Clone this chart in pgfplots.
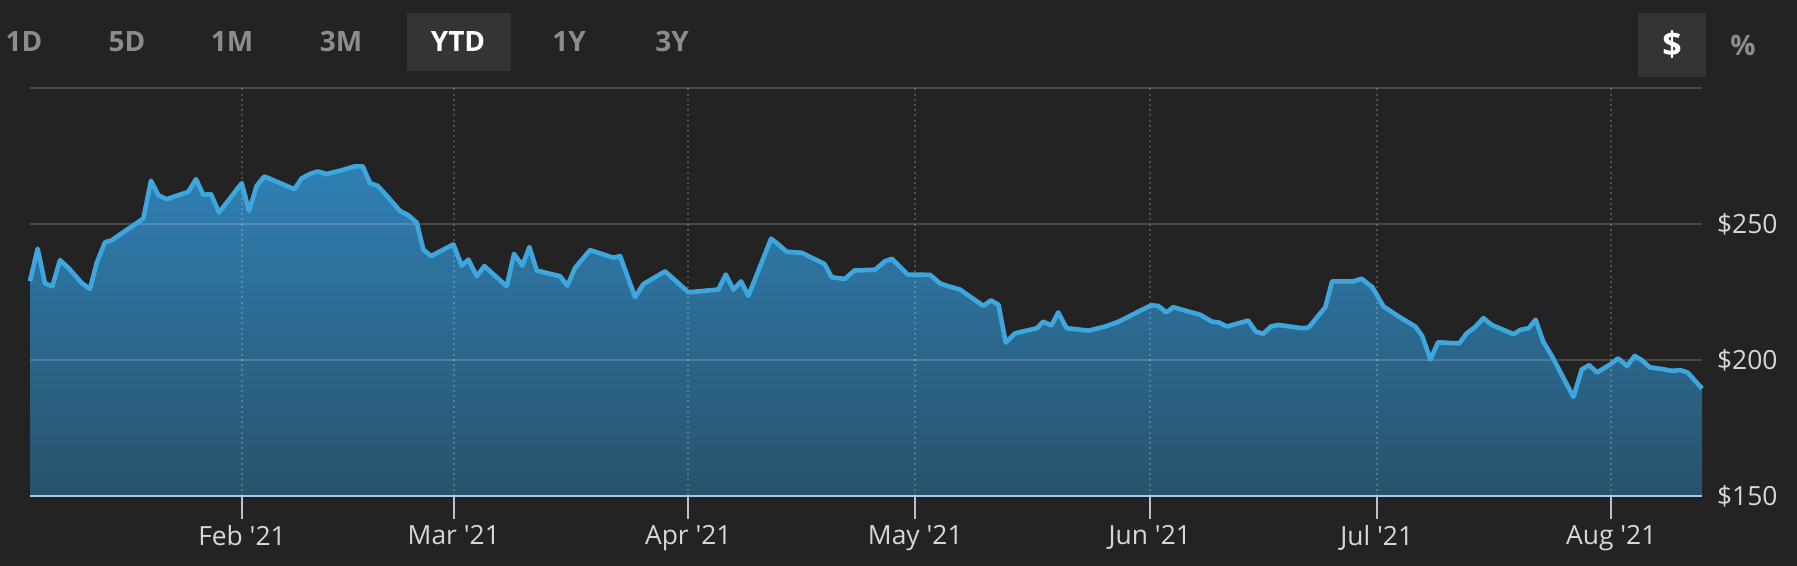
\documentclass[border=0pt]{standalone}
\usepackage{pgfplots}
\usepackage{pgfplotstable}
\pgfplotsset{compat=1.18}
\usepackage{fontspec}
\setmainfont{Open Sans}
\definecolor{bg}{RGB}{35,35,35}
\definecolor{btn}{RGB}{52,52,52}
\definecolor{btntxt}{RGB}{140,140,140}
\definecolor{lbl}{RGB}{215,215,215}
\definecolor{linec}{RGB}{62,166,222}
\definecolor{filltop}{RGB}{47,128,180}
\definecolor{fillbot}{RGB}{40,82,108}
\definecolor{axisc}{RGB}{168,200,226}
\definecolor{tickc}{RGB}{176,196,212}

\pgfplotstableread{
day val
2.975 229
3.99 240.9
4.96 228.1
5.93 227.1
6.94 236.7
8.04 233.9
9.81 228.3
10.91 226.1
11.79 235.7
12.89 243.3
13.77 244.0
15.53 247.4
16.86 249.9
17.96 252.0
18.97 265.9
19.94 260.6
21.04 259.1
22.58 260.6
23.90 261.8
24.92 266.5
25.89 260.7
26.90 261.0
27.96 254.2
30.96 265.0
31.93 254.8
32.94 264.0
33.95 267.5
35.80 265.3
37.92 262.8
38.89 266.8
39.99 268.4
41.01 269.3
42.20 268.4
43.96 269.6
45.94 271.2
46.96 271.2
47.93 265.0
48.94 264.0
50.35 259.7
51.89 254.8
52.99 253.2
54.10 250.5
54.97 240.6
55.99 238.2
58.94 242.5
60.04 234.7
60.93 236.9
62.03 230.8
63.04 234.5
66.0 227.1
66.96 239.0
68.06 234.7
68.99 241.5
69.96 232.9
73.04 230.8
74.01 227.3
75.03 233.9
77.01 240.4
80.09 237.6
80.98 238.2
82.96 223.1
84.06 227.9
86.93 232.6
90.01 224.9
93.97 225.9
94.95 231.4
95.96 225.9
96.97 228.9
97.94 223.6
100.94 244.6
101.9 242.5
103.0 239.8
105.0 239.4
108.0 235.3
108.96 230.4
110.7 229.8
111.95 232.9
114.7 233.2
116.0 236.3
116.9 237.2
118.0 234.2
119.0 231.4
121.96 231.3
123.3 228.1
124.4 227.1
125.9 225.9
129.0 219.9
130.0 221.9
131.0 220.3
131.96 206.4
133.2 209.8
136.1 211.7
136.9 214.1
138.0 212.7
138.9 217.5
140.0 211.7
142.9 210.8
145.1 212.3
146.9 214.1
149.5 217.8
151.2 220.1
152.1 219.9
153.2 217.5
154.1 219.4
157.7 216.6
159.2 214.1
160.1 213.8
161.2 212.3
164.0 214.5
165.0 210.5
166.0 209.6
167.0 212.3
168.0 212.9
171.1 211.7
172.0 211.9
174.2 219.4
175.1 228.9
177.9 228.9
179.0 229.9
180.4 226.8
181.9 219.7
183.9 216.0
186.1 212.3
187.0 208.9
188.1 200.2
189.1 206.5
191.9 206.1
192.9 209.8
194.0 212.1
195.1 215.4
196.2 212.9
199.1 209.5
200.0 211.1
201.1 211.7
202.0 214.8
203.0 206.8
204.2 201.2
207.0 186.4
208.1 196.5
209.1 198.1
210.1 195.4
211.9 198.4
212.9 200.6
214.1 197.8
215.1 201.5
216.0 200.0
217.1 197.3
218.7 196.7
220.1 196.0
221.1 196.3
222.1 195.4
224.0 189.5
}\pricedata

\begin{document}
\begin{tikzpicture}
\fill[bg] (-15pt,-35pt) rectangle (883.5pt,248pt);
\begin{scope}[x=1pt,y=1pt,shift={(-15pt,248pt)}]
% range buttons
\fill[btn] (203.5,-6.3) rectangle (255.5,-35.5);
\fill[btn] (819,-6.3) rectangle (853,-38.5);
\foreach \t/\x in {1D/12,5D/63.5,1M/116,3M/170.5,1Y/284.5,3Y/336}
  \node[font=\bfseries\fontsize{14}{14}\selectfont, text=btntxt, inner sep=0pt] at (\x,-21) {\t};
\node[font=\bfseries\fontsize{14}{14}\selectfont, text=white, inner sep=0pt] at (229,-21) {YTD};
\node[font=\bfseries\fontsize{17}{17}\selectfont, text=white, inner sep=0pt] at (836,-22.5) {\$};
\node[font=\bfseries\fontsize{14}{14}\selectfont, text=btntxt, inner sep=0pt] at (871.5,-22.5) {\%};
\end{scope}

\begin{axis}[
  scale only axis, width=836pt, height=204pt,
  xmin=2.975, xmax=224, ymin=150, ymax=300,
  clip=false,
  axis line style={draw=none},
  xtick={31,59,90,120,151,181,212},
  xticklabels={Feb \textquotesingle21,Mar \textquotesingle21,Apr \textquotesingle21,May \textquotesingle21,Jun \textquotesingle21,Jul \textquotesingle21,Aug \textquotesingle21},
  tick align=outside,
  xtick pos=bottom,
  major tick length=11.5pt,
  xtick style={tickc, line width=1pt},
  ytick={150,200,250},
  yticklabels={\$150,\$200,\$250},
  ytick pos=right,
  yticklabel pos=right,
  ytick style={draw=none},
  tick label style={font=\fontsize{13.2}{13.2}\selectfont, text=lbl},
  xticklabel style={anchor=north, yshift=0.5pt},
  yticklabel style={anchor=west, xshift=-7.5pt},
]
\addplot[draw=none, top color=filltop, bottom color=fillbot] table[x=day,y=val] {\pricedata} \closedcycle;
\draw[white, opacity=0.17, line width=1pt] (axis cs:2.975,200) -- (axis cs:224,200);
\draw[white, opacity=0.17, line width=1pt] (axis cs:2.975,250) -- (axis cs:224,250);
\draw[white, opacity=0.17, line width=1pt] (axis cs:2.975,300) -- (axis cs:224,300);
\pgfplotsinvokeforeach{31,59,90,120,151,181,212}{
  \draw[white, opacity=0.2, line width=0.9pt, dash pattern=on 1pt off 1.6pt] (axis cs:#1,150) -- (axis cs:#1,300);
}
\addplot[linec, line width=2.3pt, line join=round] table[x=day,y=val] {\pricedata};
\draw[axisc, line width=1.4pt] (axis cs:2.975,150) -- (axis cs:224,150);
\end{axis}
\end{tikzpicture}
\end{document}
